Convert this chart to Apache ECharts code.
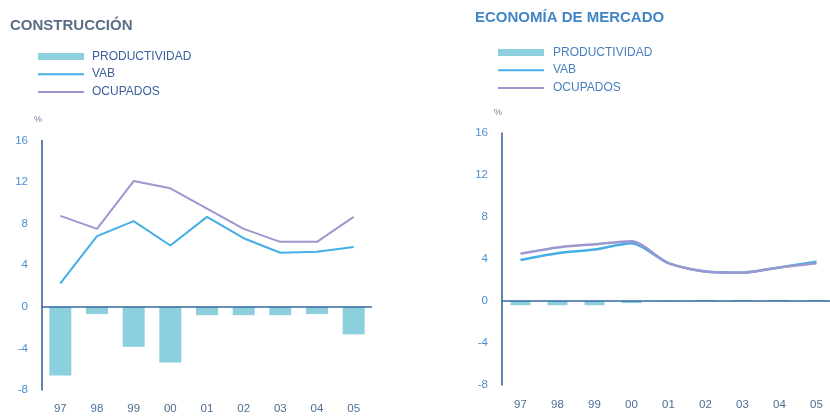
<!DOCTYPE html>
<html>
<head>
<meta charset="utf-8">
<script src="https://cdn.jsdelivr.net/npm/echarts@6/dist/echarts.min.js"></script>
<style>
  html, body { margin: 0; padding: 0; background: #ffffff; }
  #chart { width: 830px; height: 416px; }
</style>
</head>
<body>
<div id="chart"></div>
<script>
const categories = ['97', '98', '99', '00', '01', '02', '03', '04', '05'];
const seriesNames = ['PRODUCTIVIDAD', 'VAB', 'OCUPADOS'];
const titles = ['CONSTRUCCIÓN', 'ECONOMÍA DE MERCADO'];

const consProd = [-6.6, -0.7, -3.85, -5.35, -0.8, -0.8, -0.8, -0.7, -2.65];
const consVab  = [2.25, 6.8, 8.25, 5.9, 8.65, 6.6, 5.2, 5.3, 5.75];
const consOcup = [8.75, 7.5, 12.1, 11.4, 9.45, 7.5, 6.25, 6.25, 8.65];

const mercProd = [-0.4, -0.4, -0.4, -0.2, 0.05, 0.1, 0.1, 0.1, 0.1];
const mercVab  = [3.9, 4.55, 4.9, 5.5, 3.6, 2.8, 2.7, 3.2, 3.75];
const mercOcup = [4.5, 5.1, 5.4, 5.7, 3.6, 2.8, 2.7, 3.2, 3.6];

const yMin = -8, yMax = 16, yStep = 4;

const FONT = 'Liberation Sans';
const BAR = '#8ccfdd';
const VAB = '#45aee6';
const OCUP = '#9b98cf';
const AXIS = '#2f5f8f';
const LINE_ICON = 'path://M0,0L46,0L46,2L0,2Z';
const BAR_ICON = 'path://M0,0L46,0L46,7L0,7Z';

function xAx(gi, margin) {
  return {
    type: 'category', gridIndex: gi, data: categories, boundaryGap: true,
    axisLine: { show: false, onZero: false }, axisTick: { show: false },
    axisLabel: { color: '#4d6f93', fontSize: 11.5, fontFamily: FONT, margin: margin },
    splitLine: { show: false }
  };
}
function yAx(gi, gap) {
  return {
    type: 'value', gridIndex: gi, min: yMin, max: yMax, interval: yStep,
    name: '%', nameLocation: 'end', nameGap: gap,
    nameTextStyle: { color: '#6a7f99', fontSize: 9, fontFamily: FONT, align: 'right' },
    axisLine: { show: true, lineStyle: { color: AXIS, width: 1.5 } },
    axisTick: { show: false },
    axisLabel: { color: '#4b8fce', fontSize: 11.5, fontFamily: FONT, margin: 14 },
    splitLine: { show: false }
  };
}
function zeroLine() {
  return {
    symbol: 'none', silent: true, label: { show: false },
    lineStyle: { color: '#3568a0', width: 1.5, type: 'solid' },
    data: [{ yAxis: 0 }]
  };
}
function legend(left, top, color, gap) {
  return {
    orient: 'vertical', left: left, top: top, padding: 0,
    itemWidth: 46, itemHeight: 7, itemGap: 0, symbolKeepAspect: true,
    data: [
      { name: seriesNames[0], icon: BAR_ICON },
      { name: seriesNames[1], icon: LINE_ICON },
      { name: seriesNames[2], icon: LINE_ICON }
    ],
    textStyle: { color: color, fontSize: 12, fontFamily: FONT, lineHeight: 17.75, padding: [0, 0, 0, gap] },
    selectedMode: false
  };
}

const option = {
  backgroundColor: '#ffffff',
  animation: false,
  title: [
    { text: titles[0], left: 10, top: 18, padding: 0,
      textStyle: { color: '#5a6d85', fontSize: 15, fontWeight: 'bold', fontFamily: FONT } },
    { text: titles[1], left: 475, top: 10, padding: 0,
      textStyle: { color: '#4186c4', fontSize: 15, fontWeight: 'bold', fontFamily: FONT } }
  ],
  legend: [legend(38, 47.5, '#3a5f9a', 3), legend(498, 43.5, '#4a80c0', 4)],
  grid: [
    { left: 42, top: 140.5, width: 330, height: 249.5, containLabel: false, outerBoundsMode: 'none' },
    { left: 502, top: 133, width: 333, height: 252, containLabel: false, outerBoundsMode: 'none' }
  ],
  xAxis: [xAx(0, 13), xAx(1, 14)],
  yAxis: [yAx(0, 16), yAx(1, 16)],
  series: [
    { name: seriesNames[0], type: 'bar', xAxisIndex: 0, yAxisIndex: 0, data: consProd,
      barWidth: 22, itemStyle: { color: BAR }, markLine: zeroLine(), z: 2 },
    { name: seriesNames[1], type: 'line', xAxisIndex: 0, yAxisIndex: 0, data: consVab,
      symbol: 'none', lineStyle: { color: VAB, width: 2 }, itemStyle: { color: VAB }, z: 3 },
    { name: seriesNames[2], type: 'line', xAxisIndex: 0, yAxisIndex: 0, data: consOcup,
      symbol: 'none', lineStyle: { color: OCUP, width: 2 }, itemStyle: { color: OCUP }, z: 3 },
    { name: seriesNames[0], type: 'bar', xAxisIndex: 1, yAxisIndex: 1, data: mercProd,
      barWidth: 20, itemStyle: { color: BAR }, markLine: zeroLine(), z: 2 },
    { name: seriesNames[1], type: 'line', xAxisIndex: 1, yAxisIndex: 1, data: mercVab,
      symbol: 'none', smooth: 0.25, lineStyle: { color: VAB, width: 2.5 }, itemStyle: { color: VAB }, z: 3 },
    { name: seriesNames[2], type: 'line', xAxisIndex: 1, yAxisIndex: 1, data: mercOcup,
      symbol: 'none', smooth: 0.25, lineStyle: { color: OCUP, width: 2.5 }, itemStyle: { color: OCUP }, z: 3 }
  ]
};

const chart = echarts.init(document.getElementById('chart'), null, { renderer: 'canvas' });
chart.setOption(option);
</script>
</body>
</html>
